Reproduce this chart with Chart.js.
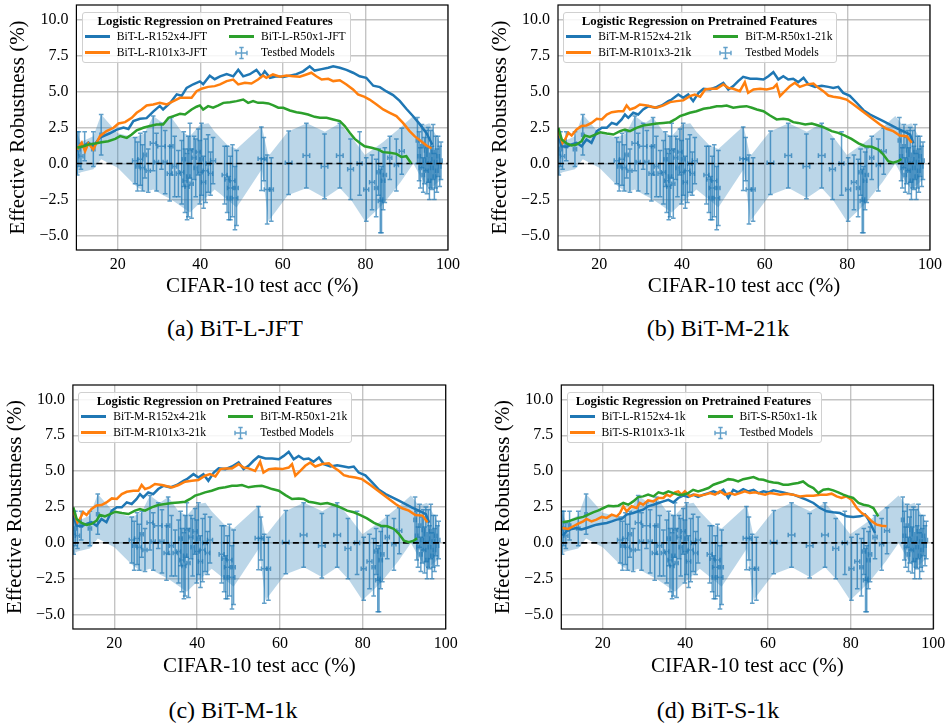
<!DOCTYPE html>
<html>
<head>
<meta charset="utf-8">
<script src="https://cdn.jsdelivr.net/npm/chart.js@4.4.1/dist/chart.umd.min.js"></script>
<style>
  body { margin: 0; background: #fff; }
  #page { position: relative; width: 946px; height: 723px; font-family: "Liberation Serif", serif; color: #000; }
  canvas { position: absolute; }
  .cap { position: absolute; font-size: 24px; transform: translate(-50%, -50%); white-space: nowrap; }
  .lg { position: absolute; background: rgba(255,255,255,0.85); border: 1px solid #d0d0d0; border-radius: 3px;
        padding: 1px 4px 1px 2px; font-size: 11.6px; }
  .lg .ttl { font-weight: bold; font-size: 12.8px; text-align: center; line-height: 15px; }
  .lg .grid { display: grid; grid-template-columns: auto auto; column-gap: 22px; }
  .lg .it { display: flex; align-items: center; height: 16px; white-space: nowrap; }
  .lg .hd { width: 25px; height: 3px; margin-right: 7px; flex: none; }
  .lg svg { margin-right: 7px; flex: none; }
</style>
</head>
<body>
<div id="page"></div>
<script>
// ---- axes ----
const xTicks = [20, 40, 60, 80, 100];
const yTicks = [-5, -2.5, 0, 2.5, 5, 7.5, 10];

// ---- testbed models: [acc, effective robustness, acc err, robustness err] ----
const testbed = [
  [10.2, 0.7, 0.3, 1.5], [10.6, 1.0, 0.3, 1.2], [11.1, 0.5, 0.5, 0.9], [12.0, 1.2, 0.3, 1.0],
  [14.1, 1.0, 0.4, 1.2], [16.0, 2.0, 0.3, 1.4],
  [24.2, 0.2, 0.6, 1.6], [24.8, -0.2, 0.4, 1.7], [25.5, 0.3, 0.6, 1.8], [26.0, -0.3, 0.5, 1.6],
  [26.6, 0.6, 0.4, 1.6], [27.4, -0.5, 0.5, 1.5], [28.6, 1.4, 0.7, 1.9], [29.4, 0.1, 0.5, 2.0],
  [30.6, 1.2, 0.9, 1.6], [31.5, 0.1, 0.5, 2.2], [32.6, -0.7, 0.6, 1.9], [33.0, 1.2, 0.4, 2.0],
  [33.8, -0.2, 0.5, 2.1], [34.7, -0.7, 0.5, 1.6],
  [35.5, -0.6, 0.5, 2.2], [36.0, 0.3, 0.4, 1.9], [36.3, -1.2, 0.5, 2.2], [36.8, -1.6, 0.5, 2.3],
  [37.1, -0.9, 0.4, 2.8], [37.5, 0.9, 0.6, 1.9], [37.9, -1.4, 0.4, 2.4], [38.5, 0.4, 0.5, 1.5],
  [38.9, -0.3, 0.4, 2.0], [39.5, 0.8, 0.5, 1.6], [39.9, -0.6, 0.6, 2.2], [40.3, 0.3, 0.4, 2.5],
  [40.8, -1.3, 0.5, 1.8], [41.3, -0.5, 0.6, 2.2], [41.9, 0.0, 0.5, 2.0], [42.5, -0.7, 0.5, 1.5],
  [43.1, 0.2, 0.6, 1.6], [45.9, -0.8, 0.6, 2.0], [46.5, -1.1, 0.5, 2.3], [46.9, -2.4, 0.4, 1.5],
  [47.3, -1.7, 0.7, 2.2], [47.8, -1.2, 0.6, 2.5], [48.4, -2.4, 0.7, 2.2], [48.8, -1.7, 0.4, 2.6],
  [54.8, 0.33, 0.8, 2.2], [55.4, 0.3, 0.6, 1.5], [56.2, -1.8, 0.7, 2.4], [57.2, -1.8, 0.5, 2.2],
  [61.4, 0.05, 0.8, 2.2], [65.7, 0.55, 0.8, 2.25], [70.1, -0.2, 0.8, 2.25], [73.8, 0.55, 0.8, 2.25],
  [76.4, -0.4, 0.7, 2.1], [78.6, 0.0, 0.6, 2.2], [80.2, -1.8, 0.6, 2.2], [81.6, -1.3, 0.6, 1.9],
  [82.6, -1.7, 0.4, 2.0], [83.2, -0.6, 0.4, 1.6], [83.6, -2.6, 0.5, 2.2], [83.9, -2.5, 0.3, 2.3],
  [84.3, -1.2, 0.4, 2.0], [84.7, -0.8, 0.4, 1.9], [85.9, 0.4, 0.5, 1.5], [87.5, -0.1, 0.5, 1.8],
  [88.8, 0.85, 0.6, 1.6],
  [92.6, 1.6, 0.3, 1.6], [93.0, 0.5, 0.3, 1.7], [93.3, -0.3, 0.3, 1.4], [93.7, 1.2, 0.3, 1.5],
  [94.0, -0.8, 0.3, 1.2], [94.3, 0.2, 0.3, 1.6], [94.6, 0.9, 0.3, 1.4], [94.9, -0.5, 0.3, 1.6],
  [95.2, 0.6, 0.3, 1.9], [95.5, -1.2, 0.3, 1.3], [95.8, 0.3, 0.3, 2.0], [96.1, -0.3, 0.3, 1.5],
  [96.4, 0.8, 0.3, 1.9], [96.7, -0.9, 0.3, 1.6], [97.0, 0.1, 0.3, 1.8], [97.3, -0.5, 0.3, 1.5],
  [97.6, 0.5, 0.3, 1.4], [98.0, -0.2, 0.3, 1.4], [98.3, 0.2, 0.3, 1.3]
];

// ---- shaded band around the testbed models ----
const bandAcc  = [10, 11.1, 14.1, 16, 20, 24.2, 26.5, 28.6, 31, 33, 35.5, 37.5, 40, 42, 43.5, 46.5, 48.8, 54.9, 56.5, 61.2, 65.8, 70.2, 73.8, 76.7, 79.9, 84.3, 88.5, 91.6, 93.5, 95.5, 98];
const bandHigh = [2.2, 1.5, 1.9, 3.4, 2.1, 1.8, 2.1, 3.3, 2.8, 3.2, 2.2, 1.9, 2.7, 2.8, 2.2, 1.3, 1.0, 2.6, 0.5, 2.2, 2.8, 2.2, 2.8, 1.8, 0.6, 1.5, 2.5, 3.3, 2.6, 2.8, 1.5];
const bandLow  = [-0.8, -0.6, -0.4, 0.3, -0.3, -1.5, -2.0, -1.8, -2.2, -2.5, -3.0, -3.4, -2.7, -2.2, -1.8, -2.5, -3.05, -0.4, -4.0, -2.2, -1.7, -2.4, -1.7, -2.6, -4.0, -2.8, -1.3, 0.0, -1.0, -1.8, -1.2];

const zeroLine = [[10, 0], [100, 0]];

// ---- (a) BiT-L JFT ----
const lJft152 = [[10.2,1.1],[11.7,1.2],[12.9,1.45],[14.1,1.2],[15.7,1.8],[18.1,2.1],[19.8,2.35],[21.4,2.5],[22.6,2.4],[23.8,2.95],[25.4,3.1],[27.0,3.15],[28.6,3.6],[30.2,4.0],[31.0,3.75],[32.7,4.2],[34.3,4.8],[35.5,4.7],[36.7,5.25],[38.3,5.5],[39.9,5.7],[40.7,5.5],[42.3,6.1],[43.5,5.85],[44.8,6.05],[46.4,6.2],[48.0,6.05],[49.2,6.5],[50.4,6.05],[52.0,6.2],[53.6,6.5],[54.8,6.05],[55.6,6.4],[56.9,5.95],[58.5,6.05],[60.1,6.0],[61.7,6.1],[63.3,6.2],[64.9,6.4],[66.5,6.75],[67.7,6.45],[69.4,6.55],[71.0,6.65],[72.2,6.75],[73.8,6.65],[75.4,6.5],[77.0,6.3],[78.6,6.05],[80.2,5.95],[81.9,5.4],[83.5,5.3],[85.1,5.0],[86.7,4.75],[88.3,4.35],[89.9,3.8],[91.5,3.3],[93.1,2.75],[94.8,2.1],[96.2,1.3]];
const lJft101 = [[10.2,0.97],[11.3,1.44],[12.1,0.86],[12.9,1.4],[14.1,0.97],[14.9,1.44],[15.7,1.9],[17.3,2.25],[19.0,2.48],[20.2,2.78],[21.8,2.87],[23.4,3.17],[24.6,3.52],[25.8,3.75],[27.0,4.03],[28.6,4.1],[30.2,4.21],[31.9,4.1],[33.5,4.33],[35.1,4.56],[36.7,4.56],[37.9,4.56],[39.1,5.02],[40.3,5.19],[41.9,5.32],[43.5,5.37],[44.8,5.49],[46.4,5.72],[48.0,5.83],[49.2,5.49],[50.8,5.6],[52.4,5.55],[54.0,5.83],[55.2,6.11],[56.0,5.95],[57.6,6.18],[59.3,6.02],[60.9,6.1],[62.5,6.06],[64.1,6.02],[65.7,6.18],[66.9,6.3],[68.1,6.06],[69.4,5.83],[71.0,5.88],[72.2,5.72],[73.8,5.78],[75.4,5.49],[77.0,5.14],[78.2,4.79],[79.8,4.63],[81.0,4.44],[82.7,4.1],[84.3,3.75],[85.9,3.52],[87.5,3.29],[89.1,2.82],[90.7,2.25],[91.9,1.9],[93.5,1.55],[94.8,1.25],[96.0,1.04]];
const lJft50 = [[10.2,1.09],[11.7,1.2],[12.9,1.32],[14.5,1.39],[16.1,1.48],[17.7,1.55],[19.4,1.71],[20.6,1.9],[22.2,1.78],[23.4,2.01],[24.6,2.31],[26.2,2.48],[27.8,2.6],[29.4,2.71],[31.0,2.71],[32.3,3.17],[33.5,3.29],[35.1,3.45],[36.3,3.4],[37.9,3.75],[39.1,3.94],[39.9,4.03],[40.7,3.75],[41.9,3.98],[43.1,3.87],[44.4,4.03],[45.6,4.21],[47.2,4.26],[48.8,4.33],[50.4,4.44],[51.6,4.21],[52.8,4.33],[54.0,4.21],[55.2,4.21],[56.5,4.17],[57.7,4.03],[58.9,3.87],[60.1,3.87],[61.7,3.68],[63.3,3.56],[64.5,3.5],[66.1,3.4],[67.7,3.24],[69.0,3.17],[70.6,3.17],[72.2,3.06],[73.8,2.94],[75.0,2.6],[76.2,2.13],[77.4,1.71],[78.6,1.44],[79.8,1.2],[81.5,1.09],[83.1,0.97],[84.3,0.79],[85.9,0.74],[87.5,0.67],[88.7,0.46],[89.9,0.51],[91.1,0.0]];

// ---- (b) and (c) BiT-M 21k ----
const m21k152 = [[10.1,1.9],[10.9,1.2],[12.1,1.16],[13.3,1.32],[14.5,1.44],[15.7,1.2],[16.9,1.67],[18.1,1.44],[19.4,2.25],[20.6,2.48],[21.8,2.48],[23.0,2.82],[24.2,2.71],[25.4,3.06],[26.2,3.4],[27.0,3.17],[28.2,3.52],[29.4,3.4],[30.6,3.75],[31.9,3.98],[33.5,3.87],[35.1,4.03],[36.7,4.33],[37.5,4.44],[39.1,4.79],[40.3,4.56],[41.5,4.79],[42.7,4.33],[44.0,4.9],[45.2,5.19],[46.8,5.14],[48.4,5.32],[50.0,5.6],[51.2,5.14],[52.4,5.37],[53.6,5.72],[54.8,6.02],[56.5,5.88],[58.1,5.88],[59.7,5.83],[60.9,6.06],[62.1,6.34],[63.3,5.83],[64.5,6.06],[65.7,5.83],[66.9,5.88],[68.1,5.65],[69.4,5.95],[70.6,5.49],[72.2,5.32],[73.8,5.4],[75.4,5.32],[76.6,5.25],[77.8,5.32],[79.0,4.9],[80.6,4.7],[82.3,4.2],[83.9,3.7],[85.5,3.4],[87.1,3.17],[88.7,2.94],[90.3,2.7],[91.9,2.45],[93.5,2.25],[95.2,2.0],[96.0,1.4]];
const m21k101 = [[10.1,2.25],[11.1,1.44],[11.7,1.67],[12.5,2.13],[13.3,1.94],[14.5,2.36],[15.7,2.6],[16.9,2.64],[18.1,2.82],[19.4,3.1],[20.6,3.06],[21.8,3.4],[23.0,3.56],[24.6,3.63],[25.8,3.63],[26.6,4.03],[27.4,3.75],[28.6,3.87],[29.8,4.1],[31.5,4.03],[32.7,3.94],[33.9,3.87],[35.5,4.03],[37.1,4.26],[38.7,4.33],[40.3,4.38],[41.9,4.68],[43.1,4.79],[44.4,4.63],[45.6,5.14],[46.8,5.19],[48.4,5.19],[50.0,5.49],[51.2,5.25],[52.4,5.19],[54.0,5.02],[55.2,5.65],[56.0,4.9],[57.3,5.14],[58.9,5.19],[60.5,5.14],[62.1,5.25],[62.9,5.49],[63.7,4.68],[64.9,5.02],[66.1,5.37],[67.3,5.6],[68.5,5.32],[70.2,5.49],[71.8,5.55],[73.0,5.25],[74.2,5.02],[75.4,4.72],[76.6,4.63],[78.2,4.56],[79.8,4.44],[81.5,4.1],[83.1,3.75],[84.7,3.4],[86.3,3.06],[87.9,2.71],[89.5,2.41],[91.1,2.25],[92.7,1.94],[94.4,1.9],[95.6,1.44]];
const m21k50 = [[10.1,2.48],[10.9,1.67],[12.1,1.39],[13.3,1.25],[14.5,1.32],[15.7,1.55],[16.5,1.94],[17.7,1.85],[19.0,2.01],[20.2,2.17],[21.8,2.08],[23.4,2.01],[25.0,2.25],[26.2,2.36],[27.4,2.25],[29.0,2.48],[30.6,2.64],[32.3,2.71],[33.9,2.78],[35.5,2.82],[37.1,2.87],[38.3,3.06],[39.5,3.29],[40.7,3.4],[41.9,3.52],[43.5,3.63],[45.2,3.8],[46.8,3.87],[48.4,3.98],[49.6,3.98],[50.8,4.03],[52.4,3.87],[54.0,3.94],[55.6,3.98],[56.9,3.87],[58.1,3.75],[59.7,3.63],[61.3,3.33],[62.9,3.06],[64.5,3.1],[65.7,3.06],[66.9,2.87],[68.1,2.82],[69.8,2.71],[71.4,2.78],[73.0,2.64],[74.6,2.48],[76.2,2.25],[77.8,2.13],[79.4,1.94],[81.0,1.71],[82.7,1.4],[84.3,1.2],[85.9,1.16],[87.5,0.97],[88.7,0.63],[89.9,0.16],[91.1,0.05],[92.3,0.16],[93.1,0.32]];

// ---- (d) BiT 1k ----
const k1L152 = [[10.3,0.51],[11.3,0.81],[12.5,0.97],[13.7,1.04],[14.9,0.93],[16.1,1.04],[17.3,1.16],[18.5,1.27],[19.8,1.34],[21.0,1.39],[22.2,1.5],[23.4,1.62],[24.6,1.67],[25.8,1.97],[27.4,2.08],[28.6,2.2],[29.8,2.31],[31.0,2.55],[32.3,2.66],[33.5,2.78],[34.7,2.89],[35.9,3.0],[37.1,2.82],[38.3,3.13],[39.5,3.29],[40.7,3.2],[41.9,3.36],[43.1,3.2],[44.4,3.36],[45.6,3.47],[46.8,3.59],[48.0,3.47],[49.2,3.7],[50.4,3.13],[51.6,3.7],[52.8,3.52],[54.0,3.75],[55.2,3.59],[56.5,3.7],[57.7,3.47],[58.9,3.59],[60.1,3.52],[61.3,3.66],[62.5,3.59],[63.7,3.52],[64.9,3.43],[66.1,3.36],[67.7,3.19],[69.4,3.0],[71.0,2.78],[72.6,2.43],[74.2,2.2],[75.8,2.13],[77.4,2.08],[79.0,1.85],[80.6,1.81],[82.3,1.85],[83.5,1.97],[84.3,1.62],[85.1,1.16],[85.9,0.69]];
const k1S101 = [[10.3,1.04],[11.7,0.97],[12.9,1.16],[14.1,1.34],[15.3,1.5],[16.1,1.67],[17.3,1.5],[18.5,1.62],[19.8,1.81],[21.0,1.74],[22.2,1.97],[23.4,1.85],[24.2,2.08],[25.0,2.55],[25.8,2.2],[27.0,2.55],[28.2,2.43],[29.0,2.78],[29.8,2.66],[31.0,2.96],[32.3,2.89],[33.5,3.13],[34.7,3.13],[35.5,3.36],[36.3,3.24],[37.5,3.52],[38.3,3.59],[39.1,3.36],[39.9,3.59],[41.1,3.24],[42.3,3.36],[43.5,3.29],[44.8,3.36],[46.0,3.47],[47.2,3.36],[48.4,3.59],[49.6,3.36],[50.8,3.47],[52.0,3.36],[53.2,3.47],[54.4,3.59],[55.6,3.47],[56.9,3.52],[58.1,3.43],[59.3,3.36],[60.5,3.47],[61.7,3.43],[62.9,3.36],[64.5,3.43],[66.1,3.36],[67.7,3.24],[69.4,3.29],[71.0,3.29],[72.6,3.36],[74.2,3.36],[75.4,3.43],[76.6,3.24],[77.8,3.13],[79.0,3.24],[80.2,3.0],[81.5,2.43],[82.7,2.08],[83.9,1.85],[85.1,1.5],[86.3,1.27],[87.5,1.2],[88.7,1.16]];
const k1S50 = [[10.3,1.44],[11.7,1.5],[12.9,1.62],[14.1,1.74],[15.3,1.81],[16.5,1.97],[17.7,2.13],[19.0,2.27],[20.2,2.43],[21.4,2.59],[22.6,2.55],[23.8,2.59],[25.0,2.78],[26.2,2.66],[27.4,2.89],[28.6,3.19],[29.8,3.24],[31.0,3.36],[32.3,3.24],[33.5,3.52],[34.7,3.43],[35.9,3.59],[37.1,3.47],[38.3,3.36],[39.5,3.36],[40.7,3.47],[41.9,3.7],[43.1,3.59],[44.4,3.7],[45.6,3.82],[46.8,4.05],[48.0,4.17],[49.2,4.28],[50.4,4.44],[51.6,4.4],[52.8,4.28],[54.0,4.44],[55.2,4.51],[56.5,4.58],[57.7,4.44],[58.9,4.4],[60.1,4.28],[61.3,4.21],[62.5,4.17],[63.7,4.05],[64.9,4.05],[66.1,4.12],[67.3,4.17],[68.5,4.28],[69.8,3.98],[71.0,3.82],[72.2,3.47],[73.4,3.7],[74.6,3.75],[75.8,3.66],[77.0,3.52],[78.2,3.36],[79.4,3.24],[80.6,3.13],[81.9,2.78],[83.1,2.66],[84.3,2.59],[85.5,2.43],[86.7,1.85]];

const BLUE = '#1f77b4', ORANGE = '#ff7f0e', GREEN = '#2ca02c';
const FONT = 'Liberation Serif';
Chart.defaults.font.family = FONT;
Chart.defaults.color = '#000';

const panels = [
  { left: 0, top: 0, w: 470, area: { l: 76.4, r: 448, t: 5, b: 250 }, caption: '(a) BiT-L-JFT', capX: 235, capY: 328,
    series: [['BiT-L-R152x4-JFT', lJft152, BLUE], ['BiT-L-R101x3-JFT', lJft101, ORANGE], ['BiT-L-R50x1-JFT', lJft50, GREEN]] },
  { left: 470, top: 0, w: 476, area: { l: 88, r: 460, t: 5, b: 250 }, caption: '(b) BiT-M-21k', capX: 718, capY: 328,
    series: [['BiT-M-R152x4-21k', m21k152, BLUE], ['BiT-M-R101x3-21k', m21k101, ORANGE], ['BiT-M-R50x1-21k', m21k50, GREEN]] },
  { left: 0, top: 380, w: 470, area: { l: 72.9, r: 445.7, t: 5, b: 249 }, caption: '(c) BiT-M-1k', capX: 233, capY: 710,
    series: [['BiT-M-R152x4-21k', m21k152, BLUE], ['BiT-M-R101x3-21k', m21k101, ORANGE], ['BiT-M-R50x1-21k', m21k50, GREEN]] },
  { left: 470, top: 380, w: 476, area: { l: 91.3, r: 463.3, t: 5, b: 249 }, caption: '(d) BiT-S-1k', capX: 718, capY: 710,
    series: [['BiT-L-R152x4-1k', k1L152, BLUE], ['BiT-S-R101x3-1k', k1S101, ORANGE], ['BiT-S-R50x1-1k', k1S50, GREEN]] }
];

// error bars for the testbed models, drawn right after that dataset
const errorBars = {
  id: 'errorBars',
  afterDatasetDraw(chart, args) {
    const ds = chart.data.datasets[args.index];
    if (!ds.errorRows) return;
    const { ctx, chartArea: a, scales: { x, y } } = chart;
    ctx.save();
    ctx.beginPath(); ctx.rect(a.left, a.top, a.width, a.height); ctx.clip();
    ctx.strokeStyle = 'rgba(31,119,180,0.7)';
    ctx.lineWidth = 1.5;
    const cap = 2.3;
    ds.errorRows.forEach(([acc, er, accErr, erErr]) => {
      const px = x.getPixelForValue(acc), py = y.getPixelForValue(er);
      const x0 = x.getPixelForValue(acc - accErr), x1 = x.getPixelForValue(acc + accErr);
      const y0 = y.getPixelForValue(er - erErr), y1 = y.getPixelForValue(er + erErr);
      ctx.beginPath();
      ctx.moveTo(px, y0); ctx.lineTo(px, y1);
      ctx.moveTo(px - cap, y0); ctx.lineTo(px + cap, y0);
      ctx.moveTo(px - cap, y1); ctx.lineTo(px + cap, y1);
      ctx.moveTo(x0, py); ctx.lineTo(x1, py);
      ctx.moveTo(x0, py - cap); ctx.lineTo(x0, py + cap);
      ctx.moveTo(x1, py - cap); ctx.lineTo(x1, py + cap);
      ctx.stroke();
    });
    ctx.restore();
  }
};

// black box round the plot
const frame = {
  id: 'frame',
  afterDraw(chart) {
    const { ctx, chartArea: a } = chart;
    ctx.save();
    ctx.strokeStyle = '#000';
    ctx.lineWidth = 1.2;
    ctx.strokeRect(a.left, a.top, a.width, a.height);
    ctx.restore();
  }
};

const page = document.getElementById('page');
const pts = arr => arr.map(([x, y]) => ({ x, y }));
const fmtY = v => (v < 0 ? '\u2212' : '') + Math.abs(v).toFixed(1);

function makePanel(p) {
  const H = 300;
  const cv = document.createElement('canvas');
  cv.width = p.w; cv.height = H;
  cv.style.left = p.left + 'px'; cv.style.top = p.top + 'px';
  page.appendChild(cv);

  const lines = p.series.map(([label, data, color], i) => ({
    type: 'line', label, data: pts(data), borderColor: color, borderWidth: 2.5,
    pointRadius: 0, fill: false, order: 3 - i
  }));

  const chart = new Chart(cv.getContext('2d'), {
    type: 'scatter',
    data: {
      datasets: [
        ...lines,
        { type: 'line', label: 'zero', data: pts(zeroLine), borderColor: '#000', borderWidth: 1.6,
          borderDash: [6, 4], pointRadius: 0, fill: false, order: 4 },
        { type: 'scatter', label: 'Testbed Models', data: testbed.map(r => ({ x: r[0], y: r[1] })),
          pointRadius: 0, errorRows: testbed, order: 5 },
        { type: 'line', label: 'band high', data: bandAcc.map((x, i) => ({ x, y: bandHigh[i] })),
          borderWidth: 0, pointRadius: 0, fill: '+1', backgroundColor: 'rgba(31,119,180,0.3)', order: 6 },
        { type: 'line', label: 'band low', data: bandAcc.map((x, i) => ({ x, y: bandLow[i] })),
          borderWidth: 0, pointRadius: 0, fill: false, order: 7 }
      ]
    },
    options: {
      responsive: false,
      animation: false,
      devicePixelRatio: 1,
      events: [],
      layout: { padding: { left: 0, top: p.area.t, right: p.w - p.area.r, bottom: 0 } },
      plugins: { legend: { display: false }, tooltip: { enabled: false } },
      scales: {
        x: {
          type: 'linear', min: 10, max: 100,
          afterBuildTicks: s => { s.ticks = xTicks.map(v => ({ value: v })); },
          afterFit: s => { s.height = H - p.area.b; s.paddingLeft = 0; s.paddingRight = 0; },
          ticks: { font: { size: 16 }, padding: 4.7, maxRotation: 0, callback: v => String(v) },
          grid: { color: 'rgba(176,176,176,0.75)', lineWidth: 1.4, drawTicks: false },
          border: { display: false },
          title: { display: true, text: 'CIFAR-10 test acc (%)', font: { size: 21 }, padding: { top: 0, bottom: 1.4 } }
        },
        y: {
          min: -6, max: 11,
          afterBuildTicks: s => { s.ticks = yTicks.map(v => ({ value: v })); },
          afterFit: s => { s.width = p.area.l; s.paddingTop = 0; s.paddingBottom = 0; },
          ticks: { font: { size: 16 }, padding: 8, callback: fmtY },
          grid: { color: 'rgba(176,176,176,0.75)', lineWidth: 1.4, drawTicks: false },
          border: { display: false },
          title: { display: true, text: 'Effective Robustness (%)', font: { size: 21 },
                   padding: { top: p.area.l - 57.5 - 12.6, bottom: 0 } }
        }
      }
    },
    plugins: [errorBars, frame]
  });

  // legend in the upper left of the plot
  const a = chart.chartArea;
  const lg = document.createElement('div');
  lg.className = 'lg';
  lg.style.left = (p.left + a.left + 5.3) + 'px';
  lg.style.top = (p.top + a.top + 6.7) + 'px';
  const line = ([label, , color]) =>
    `<div class="it"><div class="hd" style="background:${color}"></div>${label}</div>`;
  const testbedItem = `<div class="it"><svg width="25" height="14" viewBox="0 0 25 14">
      <g stroke="rgba(31,119,180,0.7)" stroke-width="1.4" fill="none">
      <path d="M12.5 1.5V12.5M10.3 1.5H14.7M10.3 12.5H14.7M7 7H18M7 4.8V9.2M18 4.8V9.2"/></g></svg>Testbed Models</div>`;
  lg.innerHTML = `<div class="ttl">Logistic Regression on Pretrained Features</div>
    <div class="grid">${line(p.series[0])}${line(p.series[2])}${line(p.series[1])}${testbedItem}</div>`;
  page.appendChild(lg);

  const cap = document.createElement('div');
  cap.className = 'cap';
  cap.style.left = p.capX + 'px';
  cap.style.top = p.capY + 'px';
  cap.textContent = p.caption;
  page.appendChild(cap);
}

panels.forEach(makePanel);
</script>
</body>
</html>
